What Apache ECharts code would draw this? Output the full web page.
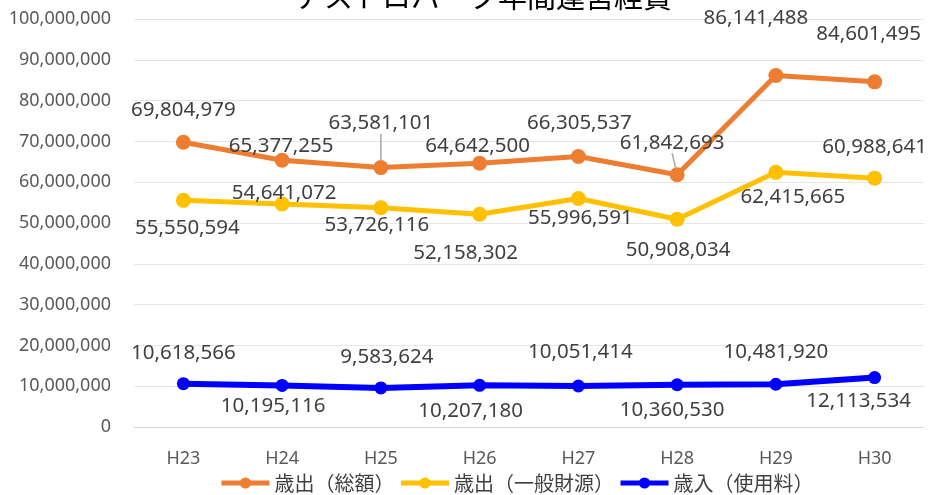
<!DOCTYPE html>
<html>
<head>
<meta charset="utf-8">
<script src="https://cdn.jsdelivr.net/npm/echarts@6/dist/echarts.min.js"></script>
<style>
  html, body { margin: 0; padding: 0; background: #fff; }
  #main { width: 928px; height: 495px; }
</style>
</head>
<body>
<div id="main"></div>
<script>
  var categories = ['H23', 'H24', 'H25', 'H26', 'H27', 'H28', 'H29', 'H30']
  var souGaku = [69804979, 65377255, 63581101, 64642500, 66305537, 61842693, 86141488, 84601495]
  var ippanZaigen = [55550594, 54641072, 53726116, 52158302, 55996591, 50908034, 62415665, 60988641]
  var shiyouryou = [10618566, 10195116, 9583624, 10207180, 10051414, 10360530, 10481920, 12113534]
  var seriesNames = ['歳出（総額）', '歳出（一般財源）', '歳入（使用料）']

  // ラベルの位置（点からのずれ）と引出線の有無
  var offOrange = [[0, -32], [-1, -14], [0, -44], [-2, -17], [1, -33], [-5, -32], [-20, -57], [-6, -48]]
  var offYellow = [[4, 28], [2, -11], [-4, 17], [-14, 39], [2, 20], [1, 31], [17, 25], [0, -31]]
  var offBlue = [[0, -31], [-9, 21], [6, -31], [-9, 26], [2, -34], [-5, 25], [0, -32], [-16, 24]]
  var leadOrange = [2, 5]
  var leadYellow = []

  var colors = ['#ED7D31', '#FFC000', '#0000FF']

  function fmt(v) {
    return v.toLocaleString('en-US')
  }

  function makeData(values, offs, leads) {
    return values.map(function (v, i) {
      var item = {
        value: v,
        label: { offset: offs[i] },
      }
      if (leads.indexOf(i) >= 0) {
        item.labelLine = {
          show: true,
          smooth: false,
          lineStyle: { color: '#a6a6a6', width: 1.5 },
        }
      }
      return item
    })
  }

  var labelStyle = {
    show: true,
    position: 'inside',
    color: '#404040',
    fontSize: 20.5,
    fontFamily: 'Noto Sans',
    formatter: function (p) {
      return fmt(p.value)
    },
  }

  var myChart = echarts.init(document.getElementById('main'))

  var option = {
    animation: false,
    title: {
      text: 'アストロパーク年間運営経費',
      left: 290,
      top: -23,
      textStyle: {
        fontSize: 29,
        fontWeight: 'normal',
        color: '#000',
        fontFamily: 'Noto Sans CJK JP',
      },
    },
    legend: {
      bottom: -3,
      left: 214,
      itemWidth: 48,
      itemHeight: 14,
      itemGap: 4,
      textStyle: {
        fontSize: 20,
        color: '#404040',
        fontFamily: 'Noto Sans CJK JP',
        padding: [0, 4, 0, 0],
      },
      data: seriesNames.map(function (n, i) {
        return {
          name: n,
          itemStyle: { color: colors[i] },
          lineStyle: { color: colors[i], width: 5 },
        }
      }),
    },
    grid: {
      left: 134,
      right: 4,
      top: 19,
      bottom: 68,
    },
    xAxis: {
      type: 'category',
      data: categories,
      boundaryGap: true,
      axisTick: { show: false },
      axisLine: { lineStyle: { color: '#d9d9d9', width: 1 } },
      axisLabel: {
        color: '#595959',
        fontSize: 18,
        fontFamily: 'Noto Sans',
        margin: 23,
      },
    },
    yAxis: {
      type: 'value',
      min: 0,
      max: 100000000,
      interval: 10000000,
      axisLine: { show: false },
      axisTick: { show: false },
      splitLine: { lineStyle: { color: '#e6e6e6', width: 1 } },
      axisLabel: {
        color: '#595959',
        fontSize: 18,
        fontFamily: 'Noto Sans',
        margin: 23,
        formatter: function (v) {
          return fmt(v)
        },
      },
    },
    series: [
      {
        name: seriesNames[0],
        type: 'line',
        data: makeData(souGaku, offOrange, leadOrange),
        symbol: 'circle',
        symbolSize: 15,
        itemStyle: { color: colors[0] },
        lineStyle: { color: colors[0], width: 5 },
        label: labelStyle,
        z: 3,
      },
      {
        name: seriesNames[1],
        type: 'line',
        data: makeData(ippanZaigen, offYellow, leadYellow),
        symbol: 'circle',
        symbolSize: 15,
        itemStyle: { color: colors[1] },
        lineStyle: { color: colors[1], width: 5 },
        label: labelStyle,
        z: 2,
      },
      {
        name: seriesNames[2],
        type: 'line',
        data: makeData(shiyouryou, offBlue, []),
        symbol: 'circle',
        symbolSize: 13,
        itemStyle: { color: colors[2] },
        lineStyle: { color: colors[2], width: 6 },
        label: labelStyle,
        z: 2,
      },
    ],
  }

  myChart.setOption(option)
</script>
</body>
</html>
